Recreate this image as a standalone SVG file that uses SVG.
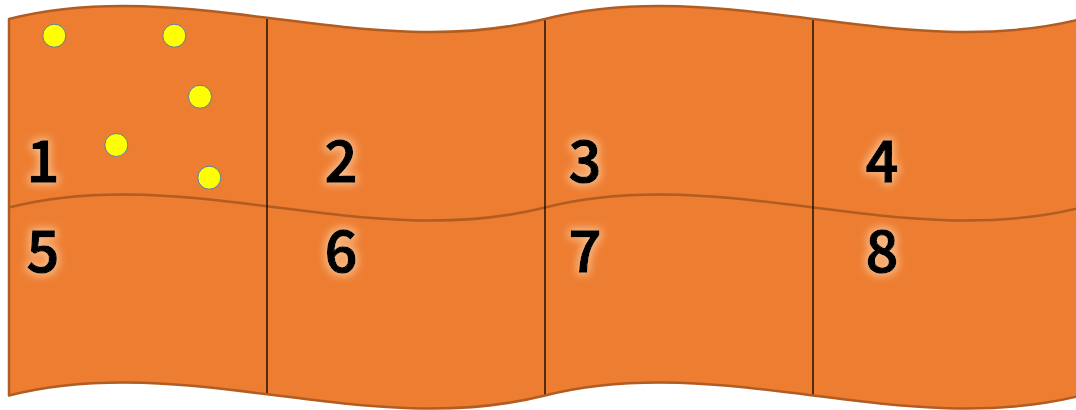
<svg xmlns="http://www.w3.org/2000/svg" width="1076" height="410" viewBox="0 0 1076 410">
  <defs>
    <filter id="glow" x="-50%" y="-50%" width="200%" height="200%">
      <feMorphology in="SourceAlpha" operator="dilate" radius="2" result="d"/>
      <feGaussianBlur in="d" stdDeviation="4" result="b"/>
      <feFlood flood-color="#FFD9B0" flood-opacity="0.7"/>
      <feComposite in2="b" operator="in" result="g"/>
      <feMerge>
        <feMergeNode in="g"/>
        <feMergeNode in="SourceGraphic"/>
      </feMerge>
    </filter>
  </defs>
  <style>
    .band { fill: #ED7D31; stroke: none; }
    .edge { fill: none; stroke: #B05C22; stroke-width: 2.5; stroke-linejoin: round; }
    .div { stroke: #000000; stroke-width: 1.3; }
    .num { font-family: "Noto Sans CJK JP", "Noto Sans", sans-serif; font-size: 57px; font-weight: 500; fill: #000000; stroke: #000000; stroke-width: 1.5; text-anchor: middle; filter: url(#glow); }
    .dot { fill: #FFFF00; stroke: #5A7EA3; stroke-width: 1; }
  </style>
  <g id="band">
    <path class="band" d="M9,19 C187.7,-26 366.3,64 545,19 C723.7,-26 902.3,64 1081,19 L1081,395.5 C902.3,440.5 723.7,350.5 545,395.5 C366.3,440.5 187.7,350.5 9,395.5 Z"/>
    <path class="edge" d="M9,207.5 C187.7,162.5 366.3,252.5 545,207.5 C723.7,162.5 902.3,252.5 1081,207.5"/>
  </g>
  <g id="connectors">
    <line class="div" x1="267" y1="19" x2="267" y2="395"/>
    <line class="div" x1="545" y1="19" x2="545" y2="395.5"/>
    <line class="div" x1="813" y1="19" x2="813" y2="395.5"/>
  </g>
  <path class="edge" d="M9,19 C187.7,-26 366.3,64 545,19 C723.7,-26 902.3,64 1081,19 L1081,395.5 C902.3,440.5 723.7,350.5 545,395.5 C366.3,440.5 187.7,350.5 9,395.5 Z"/>
  <g id="cell1"><text class="num" x="43" y="182">1</text></g>
  <g id="cell2"><text class="num" x="341" y="182">2</text></g>
  <g id="cell3"><text class="num" x="585" y="182">3</text></g>
  <g id="cell4"><text class="num" x="882" y="182">4</text></g>
  <g id="cell5"><text class="num" x="43" y="272">5</text></g>
  <g id="cell6"><text class="num" x="341" y="272">6</text></g>
  <g id="cell7"><text class="num" x="585" y="272">7</text></g>
  <g id="cell8"><text class="num" x="882" y="272">8</text></g>
  <g id="dots">
    <circle class="dot" cx="54.3" cy="35.7" r="11.5"/>
    <circle class="dot" cx="174.3" cy="35.7" r="11.5"/>
    <circle class="dot" cx="200" cy="96.7" r="11.5"/>
    <circle class="dot" cx="116.3" cy="145" r="11.5"/>
    <circle class="dot" cx="209.3" cy="177.7" r="11.5"/>
  </g>
</svg>
